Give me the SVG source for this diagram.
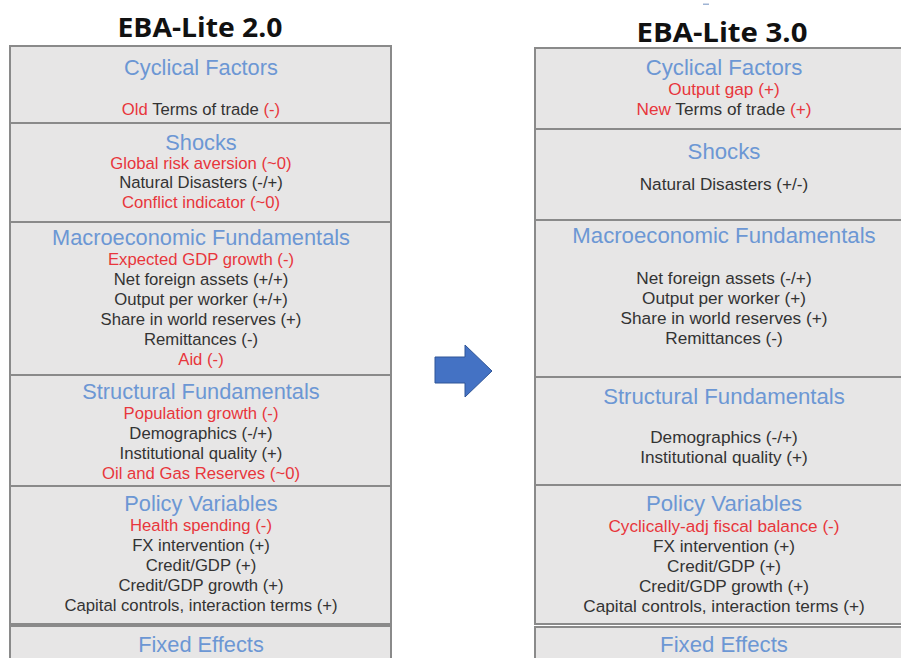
<svg xmlns="http://www.w3.org/2000/svg" width="901" height="658" viewBox="0 0 901 658">
<style>
.bx{fill:#e7e6e6;stroke:#8a8a8a;stroke-width:2}
.ttl{font-family:"Open Sans","Liberation Sans",Arial,sans-serif;font-weight:bold;font-size:26px;fill:#111;text-anchor:middle}
.h{font-family:"Liberation Sans",Arial,sans-serif;font-size:21.8px;fill:#6c97d4;text-anchor:middle}
.t{font-family:"Liberation Sans",Arial,sans-serif;font-size:16.7px;fill:#333;text-anchor:middle}
.hR{font-family:"Liberation Sans",Arial,sans-serif;font-size:22.2px;fill:#6c97d4;text-anchor:middle}
.tR{font-family:"Liberation Sans",Arial,sans-serif;font-size:17.2px;fill:#333;text-anchor:middle}
.r{fill:#e8363c}
</style>
<rect x="0" y="0" width="901" height="658" fill="#ffffff"/>
<rect x="703" y="3.5" width="6" height="1.5" fill="#9fb4d4"/>
<g id="title-left"><text class="ttl" x="200" y="37" textLength="165" lengthAdjust="spacingAndGlyphs">EBA-Lite 2.0</text></g>
<g id="title-right"><text class="ttl" x="722" y="42" textLength="171" lengthAdjust="spacingAndGlyphs">EBA-Lite 3.0</text></g>

<g id="left-cyclical">
<rect class="bx" x="10" y="46" width="381" height="77"/>
<text class="h" x="201" y="75">Cyclical Factors</text>
<text class="t" x="201" y="115"><tspan class="r">Old</tspan> Terms of trade <tspan class="r">(-)</tspan></text>
</g>
<g id="left-shocks">
<rect class="bx" x="10" y="123" width="381" height="99"/>
<text class="h" x="201" y="150">Shocks</text>
<text class="t r" x="201" y="169">Global risk aversion (~0)</text>
<text class="t" x="201" y="188">Natural Disasters (-/+)</text>
<text class="t r" x="201" y="208">Conflict indicator (~0)</text>
</g>
<g id="left-macro">
<rect class="bx" x="10" y="222" width="381" height="153"/>
<text class="h" x="201" y="245">Macroeconomic Fundamentals</text>
<text class="t r" x="201" y="265">Expected GDP growth (-)</text>
<text class="t" x="201" y="285">Net foreign assets (+/+)</text>
<text class="t" x="201" y="305">Output per worker (+/+)</text>
<text class="t" x="201" y="325">Share in world reserves (+)</text>
<text class="t" x="201" y="345">Remittances (-)</text>
<text class="t r" x="201" y="365">Aid (-)</text>
</g>
<g id="left-structural">
<rect class="bx" x="10" y="375" width="381" height="111"/>
<text class="h" x="201" y="399">Structural Fundamentals</text>
<text class="t r" x="201" y="419">Population growth (-)</text>
<text class="t" x="201" y="439">Demographics (-/+)</text>
<text class="t" x="201" y="459">Institutional quality (+)</text>
<text class="t r" x="201" y="479">Oil and Gas Reserves (~0)</text>
</g>
<g id="left-policy">
<rect class="bx" x="10" y="486" width="381" height="138"/>
<text class="h" x="201" y="511">Policy Variables</text>
<text class="t r" x="201" y="531">Health spending (-)</text>
<text class="t" x="201" y="551">FX intervention (+)</text>
<text class="t" x="201" y="571">Credit/GDP (+)</text>
<text class="t" x="201" y="591">Credit/GDP growth (+)</text>
<text class="t" x="201" y="611">Capital controls, interaction terms (+)</text>
</g>
<g id="left-fixed">
<rect class="bx" x="10" y="626" width="381" height="50"/>
<text class="h" x="201" y="652">Fixed Effects</text>
</g>

<g id="right-cyclical">
<rect class="bx" x="535" y="48" width="380" height="81"/>
<text class="hR" x="724" y="75">Cyclical Factors</text>
<text class="tR r" x="724" y="95">Output gap (+)</text>
<text class="tR" x="724" y="115"><tspan class="r">New</tspan> Terms of trade <tspan class="r">(+)</tspan></text>
</g>
<g id="right-shocks">
<rect class="bx" x="535" y="129" width="380" height="91"/>
<text class="hR" x="724" y="159">Shocks</text>
<text class="tR" x="724" y="190">Natural Disasters (+/-)</text>
</g>
<g id="right-macro">
<rect class="bx" x="535" y="220" width="380" height="157"/>
<text class="hR" x="724" y="243">Macroeconomic Fundamentals</text>
<text class="tR" x="724" y="284">Net foreign assets (-/+)</text>
<text class="tR" x="724" y="304">Output per worker (+)</text>
<text class="tR" x="724" y="324">Share in world reserves (+)</text>
<text class="tR" x="724" y="344">Remittances (-)</text>
</g>
<g id="right-structural">
<rect class="bx" x="535" y="377" width="380" height="108"/>
<text class="hR" x="724" y="404">Structural Fundamentals</text>
<text class="tR" x="724" y="443">Demographics (-/+)</text>
<text class="tR" x="724" y="463">Institutional quality (+)</text>
</g>
<g id="right-policy">
<rect class="bx" x="535" y="485" width="380" height="139"/>
<text class="hR" x="724" y="511">Policy Variables</text>
<text class="tR r" x="724" y="532">Cyclically-adj fiscal balance (-)</text>
<text class="tR" x="724" y="552">FX intervention (+)</text>
<text class="tR" x="724" y="572">Credit/GDP (+)</text>
<text class="tR" x="724" y="592">Credit/GDP growth (+)</text>
<text class="tR" x="724" y="612">Capital controls, interaction terms (+)</text>
</g>
<g id="right-fixed">
<rect class="bx" x="535" y="627" width="380" height="50"/>
<text class="hR" x="724" y="652">Fixed Effects</text>
</g>

<g id="connectors">
<polygon points="435,357 465,357 465,345 492,371 465,397 465,383 435,383" fill="#4472c4" stroke="#2f5597" stroke-width="1"/>
</g>
</svg>
